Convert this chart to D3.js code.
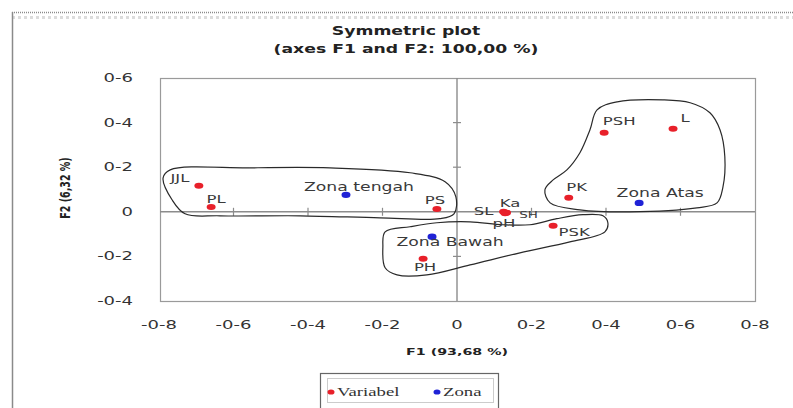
<!DOCTYPE html>
<html>
<head>
<meta charset="utf-8">
<script src="https://cdn.jsdelivr.net/npm/d3@7"></script>
<style>
  html, body { margin: 0; padding: 0; background: #fff; }
  svg { display: block; }
</style>
</head>
<body>
<svg id="chart" width="793" height="408"></svg>
<script>
// Row points (variables) and column points (zones) of the symmetric CA plot
const variabelNames = ["JJL", "PL", "PS", "SL", "Ka", "SH", "pH", "PSK", "PH", "PK", "PSH", "L"];
const variabelF1 = [-0.693, -0.660, -0.054, 0.125, 0.129, 0.133, 0.129, 0.258, -0.091, 0.300, 0.395, 0.580];
const variabelF2 = [0.117, 0.022, 0.013, 0.000, -0.004, -0.004, -0.006, -0.063, -0.210, 0.063, 0.354, 0.372];

const zonaNames = ["Zona tengah", "Zona Bawah", "Zona Atas"];
const zonaF1 = [-0.298, -0.067, 0.489];
const zonaF2 = [0.076, -0.112, 0.040];

// Hand-drawn grouping outlines, in F1/F2 coordinates
const groupTengahF1 = [-0.770, -0.556, -0.341, -0.126, -0.032, -0.003, -0.008, -0.046, -0.207, -0.421, -0.636, -0.730, -0.765, -0.789];
const groupTengahF2 = [0.188, 0.197, 0.197, 0.175, 0.135, 0.067, -0.009, -0.031, -0.027, -0.018, -0.018, -0.009, 0.054, 0.152];
const groupBawahF1 = [-0.193, -0.126, -0.054, 0.035, 0.123, 0.196, 0.268, 0.338, 0.392, 0.405, 0.397, 0.303, 0.169, 0.035, -0.081, -0.161, -0.193, -0.199];
const groupBawahF2 = [-0.090, -0.067, -0.049, -0.045, -0.058, -0.058, -0.031, -0.013, -0.018, -0.049, -0.090, -0.135, -0.184, -0.238, -0.283, -0.283, -0.251, -0.157];
const groupAtasF1 = [0.376, 0.430, 0.553, 0.626, 0.679, 0.706, 0.719, 0.714, 0.698, 0.644, 0.464, 0.330, 0.250, 0.236, 0.258, 0.295, 0.330, 0.357];
const groupAtasF2 = [0.457, 0.493, 0.502, 0.489, 0.444, 0.368, 0.247, 0.112, 0.040, 0.018, 0.000, 0.009, 0.040, 0.099, 0.143, 0.188, 0.265, 0.368];

// Axis ticks and their printed labels
const xTicks = [-0.8, -0.6, -0.4, -0.2, 0, 0.2, 0.4, 0.6, 0.8];
const xTickLabels = ["-0-8", "-0-6", "-0-4", "-0-2", "0", "0-2", "0-4", "0-6", "0-8"];
const yTicks = [-0.4, -0.2, 0, 0.2, 0.4, 0.6];
const yTickLabels = ["-0-4", "-0-2", "0", "0-2", "0-4", "0-6"];

const titleLines = ["Symmetric plot", "(axes F1 and F2: 100,00 %)"];
const xTitle = "F1 (93,68 %)";
const yTitle = "F2 (6,32 %)";
const legendLabels = ["Variabel", "Zona"];

// ---- layout / style ----
const RED = "#e8202a", BLUE = "#1f22d6";
const STRETCH = 1.5; // glyphs are drawn horizontally widened
const plot = { left: 160, right: 755, top: 78, bottom: 301 };

// label offsets (px) from each point to its label centre
const varLabelOffset = {
  JJL: [-19, -8], PL: [5, -8], PS: [-2, -9], SL: [-20, -1], Ka: [5, -10], SH: [22, 2],
  pH: [-1, 10], PSK: [21, 6], PH: [2, 8], PK: [8, -11], PSH: [15, -12], L: [12, -11]
};
const zonaLabelOffset = { "Zona tengah": [13, -8], "Zona Bawah": [18, 5], "Zona Atas": [21, -10] };

const svg = d3.select("#chart");

const x = d3.scaleLinear().domain([-0.8, 0.8]).range([159, 755]);
const y = d3.scaleLinear().domain([-0.4, 0.6]).range([plot.bottom, plot.top]);

function stretchedText(g, str, px, py, opts) {
  const o = Object.assign({ size: 12, anchor: "middle", weight: "normal", family: "DejaVu Sans, sans-serif", fill: "#333", rotate: 0 }, opts || {});
  return g.append("text")
    .attr("transform", `translate(${px},${py}) scale(${STRETCH},1)` + (o.rotate ? ` rotate(${o.rotate})` : ""))
    .attr("text-anchor", o.anchor)
    .attr("dominant-baseline", "central")
    .attr("font-family", o.family)
    .attr("font-size", o.size)
    .attr("font-weight", o.weight)
    .attr("fill", o.fill)
    .text(str);
}

// outer chart border
svg.append("line").attr("x1", 12).attr("x2", 793).attr("y1", 12.5).attr("y2", 12.5)
  .attr("stroke", "#8a8a8a").attr("stroke-width", 1.5).attr("stroke-dasharray", "1,1");
svg.append("line").attr("x1", 12).attr("x2", 793).attr("y1", 17.5).attr("y2", 17.5)
  .attr("stroke", "#dcdcdc").attr("stroke-width", 3).attr("stroke-dasharray", "3,3");
svg.append("line").attr("x1", 12.5).attr("x2", 12.5).attr("y1", 12).attr("y2", 408)
  .attr("stroke", "#8a8a8a").attr("stroke-width", 1.5);

// titles
const titles = svg.append("g");
titleLines.forEach((t, i) => stretchedText(titles, t, 406, 31 + i * 18, { size: 11.5, weight: "bold", family: "DejaVu Sans, sans-serif", fill: "#222" }));

// plot frame
svg.append("rect")
  .attr("x", plot.left + 0.5).attr("y", plot.top + 0.5)
  .attr("width", plot.right - plot.left).attr("height", plot.bottom - plot.top)
  .attr("fill", "none").attr("stroke", "#9a9a9a").attr("stroke-width", 1.2);

// zero axes with cross ticks
const axes = svg.append("g").attr("stroke", "#8c8c8c");
axes.append("line").attr("x1", plot.left).attr("x2", plot.right).attr("y1", y(0)).attr("y2", y(0)).attr("stroke-width", 1.4);
axes.append("line").attr("x1", x(0)).attr("x2", x(0)).attr("y1", plot.top).attr("y2", plot.bottom).attr("stroke-width", 1.4);
axes.selectAll(".xt").data(xTicks.filter(d => d !== 0 && Math.abs(d) < 0.8)).join("line")
  .attr("x1", d => x(d)).attr("x2", d => x(d)).attr("y1", y(0) - 4).attr("y2", y(0) + 4).attr("stroke-width", 1.2);
axes.selectAll(".yt").data(yTicks.filter(d => d !== 0 && d > -0.4 && d < 0.6)).join("line")
  .attr("x1", x(0) - 4).attr("x2", x(0) + 4).attr("y1", d => y(d)).attr("y2", d => y(d)).attr("stroke-width", 1.2);

// tick labels
const tl = svg.append("g");
xTicks.forEach((d, i) => stretchedText(tl, xTickLabels[i], x(d), 325, { size: 12, fill: "#333" }));
yTicks.forEach((d, i) => stretchedText(tl, yTickLabels[i], 133, y(d), { size: 12, anchor: "end", fill: "#333" }));

// axis titles
stretchedText(svg, xTitle, 457, 352, { size: 9.5, weight: "bold", fill: "#222" });
stretchedText(svg, yTitle, 65, 188, { size: 9.5, weight: "bold", fill: "#222", rotate: -90 });

// grouping outlines
const outline = d3.line().x(d => x(d[0])).y(d => y(d[1])).curve(d3.curveCatmullRomClosed.alpha(0.5));
[[groupTengahF1, groupTengahF2], [groupBawahF1, groupBawahF2], [groupAtasF1, groupAtasF2]].forEach(([fx, fy]) => {
  svg.append("path")
    .attr("d", outline(fx.map((v, i) => [v, fy[i]])))
    .attr("fill", "none").attr("stroke", "#2a2a2a").attr("stroke-width", 1.2);
});

// points
const pts = svg.append("g");
const vars = variabelNames.map((n, i) => ({ name: n, f1: variabelF1[i], f2: variabelF2[i] }));
const zonas = zonaNames.map((n, i) => ({ name: n, f1: zonaF1[i], f2: zonaF2[i] }));

pts.selectAll(".var").data(vars).join("ellipse")
  .attr("cx", d => x(d.f1)).attr("cy", d => y(d.f2)).attr("rx", 4.5).attr("ry", 3).attr("fill", RED);
pts.selectAll(".zona").data(zonas).join("ellipse")
  .attr("cx", d => x(d.f1)).attr("cy", d => y(d.f2)).attr("rx", 4.5).attr("ry", 3.2).attr("fill", BLUE);

// point labels
const labels = svg.append("g");
vars.forEach(d => {
  const o = varLabelOffset[d.name];
  stretchedText(labels, d.name, x(d.f1) + o[0], y(d.f2) + o[1], { size: d.name === "SH" ? 9 : 11, fill: "#3a3a3a" });
});
zonas.forEach(d => {
  const o = zonaLabelOffset[d.name];
  stretchedText(labels, d.name, x(d.f1) + o[0], y(d.f2) + o[1], { size: 11.5, fill: "#3a3a3a" });
});

// legend
const lg = svg.append("g");
lg.append("rect").attr("x", 320.5).attr("y", 373.5).attr("width", 178).attr("height", 40)
  .attr("fill", "#fff").attr("stroke", "#666").attr("stroke-width", 1.2);
lg.append("rect").attr("x", 327.5).attr("y", 378.5).attr("width", 166).attr("height", 24)
  .attr("fill", "none").attr("stroke", "#999").attr("stroke-width", 1).attr("stroke-dasharray", "1,1");
const legendColors = [RED, BLUE];
const legendX = [331, 437];
legendLabels.forEach((t, i) => {
  lg.append("ellipse").attr("cx", legendX[i]).attr("cy", 392).attr("rx", 3.5).attr("ry", 2.6).attr("fill", legendColors[i]);
  stretchedText(lg, t, legendX[i] + 6, 392, { size: 12.5, anchor: "start", family: "Liberation Serif, serif", fill: "#333" });
});
</script>
</body>
</html>
